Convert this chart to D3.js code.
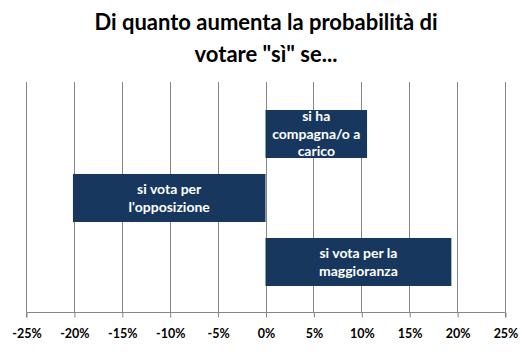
<!DOCTYPE html>
<html>
<head>
<meta charset="utf-8">
<script src="https://cdn.jsdelivr.net/npm/d3@7/dist/d3.min.js"></script>
<style>
  html, body { margin: 0; padding: 0; background: #fff; }
  svg { display: block; }
  text { font-family: Lato, "Open Sans", sans-serif; }
</style>
</head>
<body>
<svg id="chart" width="532" height="358"></svg>
<script>
const titleLines = ["Di quanto aumenta la probabilità di", "votare \"sì\" se..."];
const categories = ["si ha compagna/o a carico", "si vota per l'opposizione", "si vota per la maggioranza"];
const labelLines = [["si ha", "compagna/o a", "carico"], ["si vota per", "l'opposizione"], ["si vota per la", "maggioranza"]];
const values = [10.6, -20.1, 19.4];
const tickValues = [-25, -20, -15, -10, -5, 0, 5, 10, 15, 20, 25];

const svg = d3.select("#chart");
const plotTop = 82, plotBottom = 312;

const x = d3.scaleLinear().domain([-25, 25]).range([26, 505]);
const y = d3.scaleBand().domain(categories).range([110, 286]).paddingInner(0.25).paddingOuter(0);

// title
svg.append("g").selectAll("text").data(titleLines).join("text")
  .attr("x", 266)
  .attr("y", (d, i) => 30 + i * 32)
  .attr("text-anchor", "middle")
  .attr("font-size", "22px")
  .attr("font-weight", "bold")
  .attr("fill", "#000")
  .text(d => d);

// gridlines
svg.append("g").selectAll("line").data(tickValues).join("line")
  .attr("x1", d => Math.round(x(d)) + 0.5)
  .attr("x2", d => Math.round(x(d)) + 0.5)
  .attr("y1", plotTop)
  .attr("y2", plotBottom)
  .attr("stroke", "#868686")
  .attr("stroke-width", 1);

// bars
const rows = categories.map((c, i) => ({c, v: values[i], lines: labelLines[i]}));
svg.append("g").selectAll("rect").data(rows).join("rect")
  .attr("x", d => x(Math.min(0, d.v)))
  .attr("width", d => Math.abs(x(d.v) - x(0)))
  .attr("y", d => y(d.c))
  .attr("height", y.bandwidth())
  .attr("fill", "#17375E");

// bar labels
const lg = svg.append("g");
rows.forEach(d => {
  const cx = (x(0) + x(d.v)) / 2;
  const cy = y(d.c) + y.bandwidth() / 2;
  const lh = d.lines.length === 3 ? 17.5 : 18.5;
  const start = cy - (d.lines.length - 1) * lh / 2;
  d.lines.forEach((t, j) => {
    lg.append("text")
      .attr("x", cx)
      .attr("y", start + j * lh)
      .attr("dy", "0.35em")
      .attr("text-anchor", "middle")
      .attr("font-size", "14px")
      .attr("font-weight", "bold")
      .attr("fill", "#fff")
      .text(t);
  });
});

// x axis
const axis = d3.axisBottom(x).tickValues(tickValues).tickSize(5).tickPadding(12)
  .tickFormat(d => d + "%");
const ag = svg.append("g").attr("transform", `translate(0.5,${plotBottom + 0.5})`).call(axis);
ag.select(".domain").attr("stroke", "#868686").attr("d", `M${x(-25)},5V0H${x(25)}V5`);
ag.selectAll(".tick line").attr("stroke", "#868686");
ag.selectAll(".tick text")
  .attr("font-size", "12.5px")
  .attr("font-weight", "bold")
  .attr("fill", "#000")
  .attr("font-family", "Lato, 'Open Sans', sans-serif");
</script>
</body>
</html>
